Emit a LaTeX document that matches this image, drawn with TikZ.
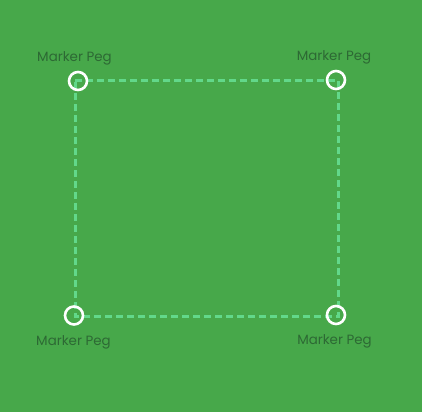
\documentclass[tikz,border=0pt]{standalone}
\usepackage{fontspec}
\setmainfont{Poppins}
\usepackage{tikz}
\usetikzlibrary{positioning}
\usepackage{xcolor}
\definecolor{FieldGreen}{RGB}{71,168,74}
\definecolor{LineGreen}{RGB}{98,216,138}
\definecolor{TextGreen}{RGB}{45,105,52}

\tikzset{
  peg/.style={circle, draw=white, line width=2.6pt, minimum size=18pt, inner sep=0pt},
  pegtext/.style={font=\fontsize{13.4pt}{15pt}\selectfont, text=TextGreen, inner sep=0pt},
  boundary/.style={LineGreen, line width=3pt, dash pattern=on 7pt off 4pt}
}

\begin{document}
\begin{tikzpicture}[x=1pt, y=-1pt]
% field
\fill[FieldGreen] (0,0) rectangle (422,412);
\useasboundingbox (0,0) rectangle (422,412);
% corners of the dashed plot
\coordinate (c1) at (75,80.5);
\coordinate (c2) at (338.5,80.5);
\coordinate (c3) at (338.5,316);
\coordinate (c4) at (75,316);
\draw[boundary] (c1) -- (c2) -- (c3) -- (c4) -- cycle;
% pegs
\node[peg] (tl) at (78,81) {};
\node[peg] (tr) at (336,80) {};
\node[peg] (bl) at (74,315.5) {};
\node[peg] (br) at (336,315) {};
% labels
\node[pegtext] (tltext) at (74.5,58.5) {Marker Peg};
\node[pegtext] (trtext) at (334,57.5) {Marker Peg};
\node[pegtext] (bltext) at (73.5,342) {Marker Peg};
\node[pegtext] (brtext) at (334.5,341) {Marker Peg};
\end{tikzpicture}
\end{document}
